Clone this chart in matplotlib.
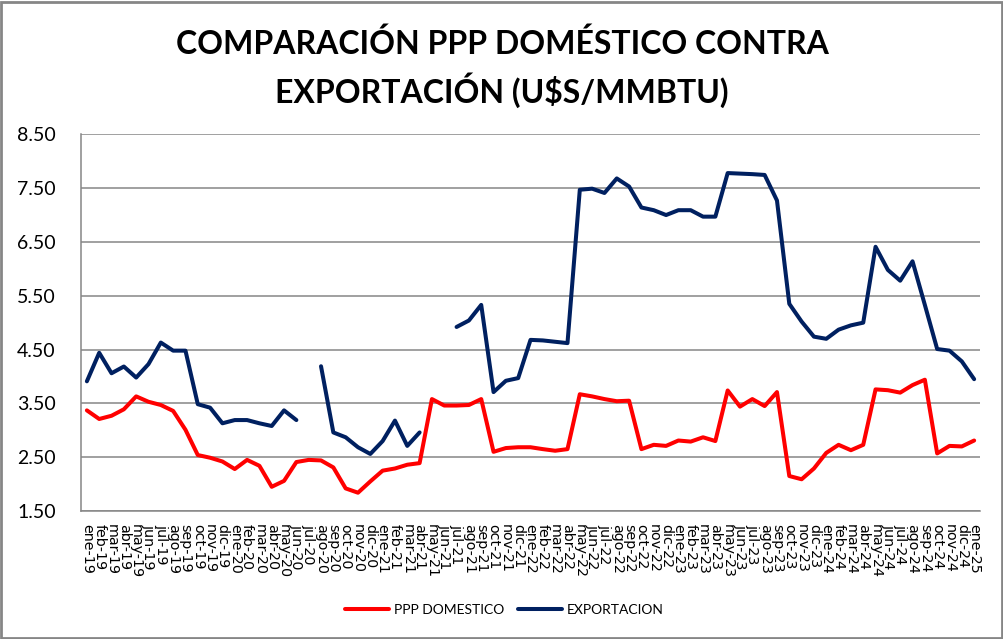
import numpy as np
import matplotlib.pyplot as plt
from matplotlib.patches import Rectangle

# Month labels ene-19 .. ene-25
meses = ['ene', 'feb', 'mar', 'abr', 'may', 'jun', 'jul', 'ago', 'sep', 'oct', 'nov', 'dic']
etiquetas = [f"{m}-{a}" for a in range(19, 25) for m in meses] + ['ene-25']

# PPP domestico (U$S/MMBTU)
ppp_domestico = [3.37, 3.21, 3.27, 3.39, 3.63, 3.53, 3.47, 3.36, 3.01, 2.54, 2.49, 2.42,
                 2.28, 2.45, 2.34, 1.95, 2.06, 2.41, 2.45, 2.44, 2.31, 1.92, 1.84, 2.05,
                 2.25, 2.29, 2.36, 2.39, 3.58, 3.46, 3.46, 3.47, 3.58, 2.60, 2.67, 2.685,
                 2.685, 2.65, 2.62, 2.65, 3.67, 3.63, 3.58, 3.54, 3.55, 2.65, 2.73, 2.71,
                 2.81, 2.79, 2.87, 2.80, 3.74, 3.44, 3.58, 3.45, 3.71, 2.15, 2.09, 2.29,
                 2.58, 2.73, 2.63, 2.73, 3.76, 3.745, 3.70, 3.84, 3.94, 2.57, 2.71, 2.70,
                 2.81]

# Exportacion (gaps = no data)
exportacion = [3.91, 4.44, 4.06, 4.185, 3.98, 4.23, 4.63, 4.48, 4.48, 3.485, 3.42, 3.13,
               3.19, 3.19, 3.13, 3.08, 3.37, 3.19, np.nan, 4.19, 2.96, 2.87, 2.685, 2.56,
               2.80, 3.18, 2.71, 2.96, np.nan, np.nan, 4.92, 5.04, 5.33, 3.71, 3.92, 3.97,
               4.68, 4.67, 4.645, 4.62, 7.47, 7.49, 7.41, 7.68, 7.53, 7.14, 7.09, 7.00,
               7.09, 7.09, 6.97, 6.97, 7.78, 7.77, 7.76, 7.745, 7.27, 5.35, 5.02, 4.74,
               4.70, 4.87, 4.95, 5.00, 6.41, 5.98, 5.78, 6.14, 5.33, 4.51, 4.48, 4.28,
               3.95]

x = np.arange(len(etiquetas))

fig = plt.figure(figsize=(10.04, 6.39), dpi=100)
ax = fig.add_axes([0.0804, 0.2003, 0.896, 0.5895])

ax.plot(x, ppp_domestico, color='#FF0000', lw=2.9, label='PPP DOMESTICO', solid_capstyle='round')
ax.plot(x, exportacion, color='#002060', lw=2.9, label='EXPORTACION', solid_capstyle='round')

ax.set_xlim(-0.5, len(x) - 0.5)
ax.set_ylim(1.5, 8.5)
ax.set_yticks(np.arange(1.5, 8.51, 1.0))
ax.set_yticklabels([f"{v:.2f}" for v in np.arange(1.5, 8.51, 1.0)], fontsize=14, family='Lato')
ax.set_xticks(x)
ax.set_xticklabels(etiquetas, rotation=270, fontsize=10.3, family='DejaVu Sans')
ax.tick_params(axis='y', length=0, pad=18)
ax.tick_params(axis='x', length=0, pad=9)
ax.grid(axis='y', color='#868686', lw=1.1)
ax.set_axisbelow(True)
for s in ['top', 'right']:
    ax.spines[s].set_visible(False)
for s in ['left', 'bottom']:
    ax.spines[s].set_color('#868686')
    ax.spines[s].set_linewidth(1.1)

# title, two lines placed on their baselines
fig.text(0.5, 1 - 54 / 639, 'COMPARACIÓN PPP DOMÉSTICO CONTRA', ha='center', va='baseline',
         fontsize=23, fontweight='bold', family='Lato')
fig.text(0.5, 1 - 103 / 639, 'EXPORTACIÓN (U$S/MMBTU)', ha='center', va='baseline',
         fontsize=23, fontweight='bold', family='Lato')

fig.legend(loc='center', bbox_to_anchor=(0.502, 0.046), ncol=2, frameon=False,
           prop={'family': 'Lato', 'size': 10}, handlelength=3.2, handletextpad=0.3,
           columnspacing=1.0)

# chart border
fig.patches.append(Rectangle((0.001, 0.002), 0.997, 0.995, transform=fig.transFigure,
                             fill=False, edgecolor='#868686', lw=2))

fig.savefig('out.png', dpi=100)
